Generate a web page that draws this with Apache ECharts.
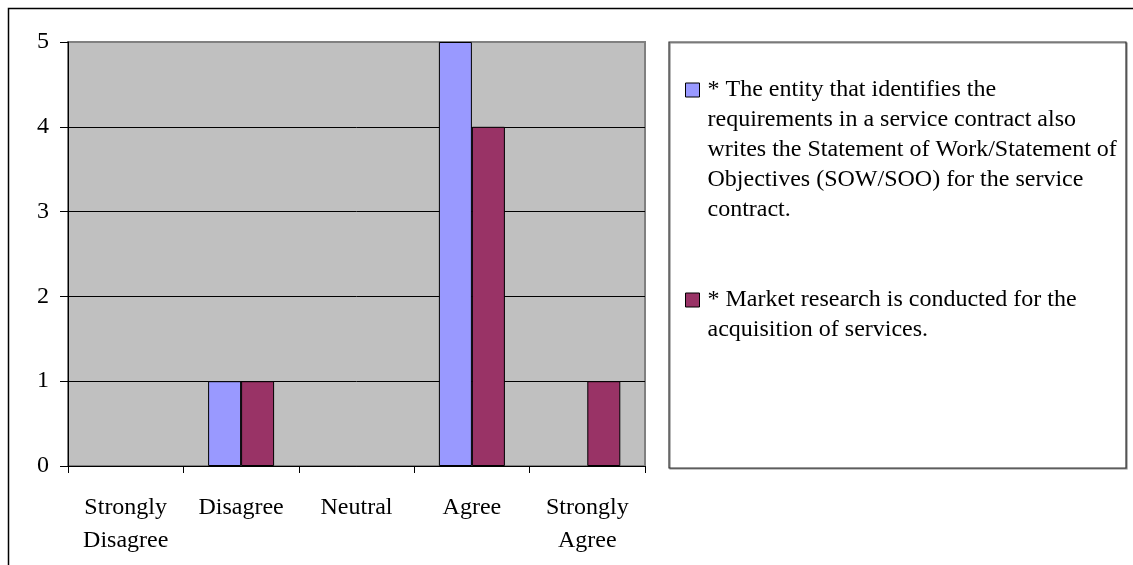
<!DOCTYPE html>
<html>
<head>
<meta charset="utf-8">
<script src="https://cdn.jsdelivr.net/npm/echarts@6/dist/echarts.min.js"></script>
<style>
  html, body { margin: 0; padding: 0; background: #fff; }
  #chart { width: 1133px; height: 565px; }
</style>
</head>
<body>
<div id="chart"></div>
<script>
var categorias = ['Strongly\nDisagree', 'Disagree', 'Neutral', 'Agree', 'Strongly\nAgree'];
var nomeSerie1 = '* The entity that identifies the\nrequirements in a service contract also\nwrites the Statement of Work/Statement of\nObjectives (SOW/SOO) for the service\ncontract.';
var nomeSerie2 = '* Market research is conducted for the\nacquisition of services.';
var valoresSerie1 = [0, 1, 0, 5, 0];
var valoresSerie2 = [0, 1, 0, 4, 1];
var ticksY = [0, 1, 2, 3, 4, 5];

var fonte = '"Liberation Serif", "Times New Roman", serif';
var tamanho = 24;
var linha = 30;

// barras com valor 0 nao mostram contorno
function barras(valores) {
    return valores.map(function (v) {
        return v === 0 ? { value: v, itemStyle: { borderWidth: 0 } } : v;
    });
}

var grafico = echarts.init(document.getElementById('chart'));

option = {
    animation: false,
    backgroundColor: '#fff',
    textStyle: { fontFamily: fonte },
    grid: {
        left: 68,
        right: 488,
        top: 42,
        bottom: 99,
        show: true,
        backgroundColor: '#C0C0C0',
        borderColor: '#808080',
        borderWidth: 2
    },
    legend: {
        orient: 'vertical',
        left: 685,
        top: -45,
        padding: 0,
        itemWidth: 14,
        itemHeight: 14,
        itemGap: 30,
        selectedMode: false,
        icon: 'rect',
        itemStyle: { borderColor: '#000', borderWidth: 1 },
        // linhas em branco no topo para o icone ficar na primeira linha
        formatter: function (name) {
            var n = name.split('\n').length;
            return new Array(n).join('\n') + name;
        },
        textStyle: {
            fontFamily: fonte,
            fontSize: tamanho,
            lineHeight: linha,
            color: '#000',
            padding: [0, 0, 0, 3]
        },
        data: [nomeSerie1, nomeSerie2]
    },
    graphic: [
        {
            type: 'rect',
            silent: true,
            shape: { x: 8.5, y: 8.5, width: 1200, height: 600 },
            style: { fill: 'none', stroke: '#000', lineWidth: 1.5 }
        },
        {
            type: 'rect',
            silent: true,
            shape: { x: 669, y: 42, width: 457, height: 426 },
            style: { fill: '#fff', stroke: '#333', lineWidth: 1.2, shadowColor: '#888', shadowOffsetX: 1, shadowOffsetY: 1, shadowBlur: 0 },
            z: -1
        }
    ],
    xAxis: {
        type: 'category',
        data: categorias,
        axisLine: { show: true, lineStyle: { color: '#000', width: 1 } },
        axisTick: { show: true, length: 7, lineStyle: { color: '#000' } },
        axisLabel: {
            interval: 0,
            color: '#000',
            fontFamily: fonte,
            fontSize: tamanho,
            lineHeight: 33,
            margin: 25
        },
        splitLine: { show: false }
    },
    yAxis: {
        type: 'value',
        min: ticksY[0],
        max: ticksY[ticksY.length - 1],
        interval: 1,
        axisLine: { show: true, lineStyle: { color: '#000', width: 1 } },
        axisTick: { show: true, length: 8, lineStyle: { color: '#000' } },
        axisLabel: {
            color: '#000',
            fontFamily: fonte,
            fontSize: tamanho,
            margin: 19
        },
        splitLine: {
            show: true,
            lineStyle: { color: ['#000', '#000', '#000', '#000', '#000', '#808080'], width: 1 }
        }
    },
    series: [
        {
            name: nomeSerie1,
            type: 'bar',
            data: barras(valoresSerie1),
            barWidth: 33,
            barGap: '0%',
            itemStyle: { color: '#9999FF', borderColor: '#000', borderWidth: 1 }
        },
        {
            name: nomeSerie2,
            type: 'bar',
            data: barras(valoresSerie2),
            barWidth: 33,
            barGap: '0%',
            itemStyle: { color: '#993366', borderColor: '#000', borderWidth: 1 }
        }
    ]
};
grafico.setOption(option);
</script>
</body>
</html>
